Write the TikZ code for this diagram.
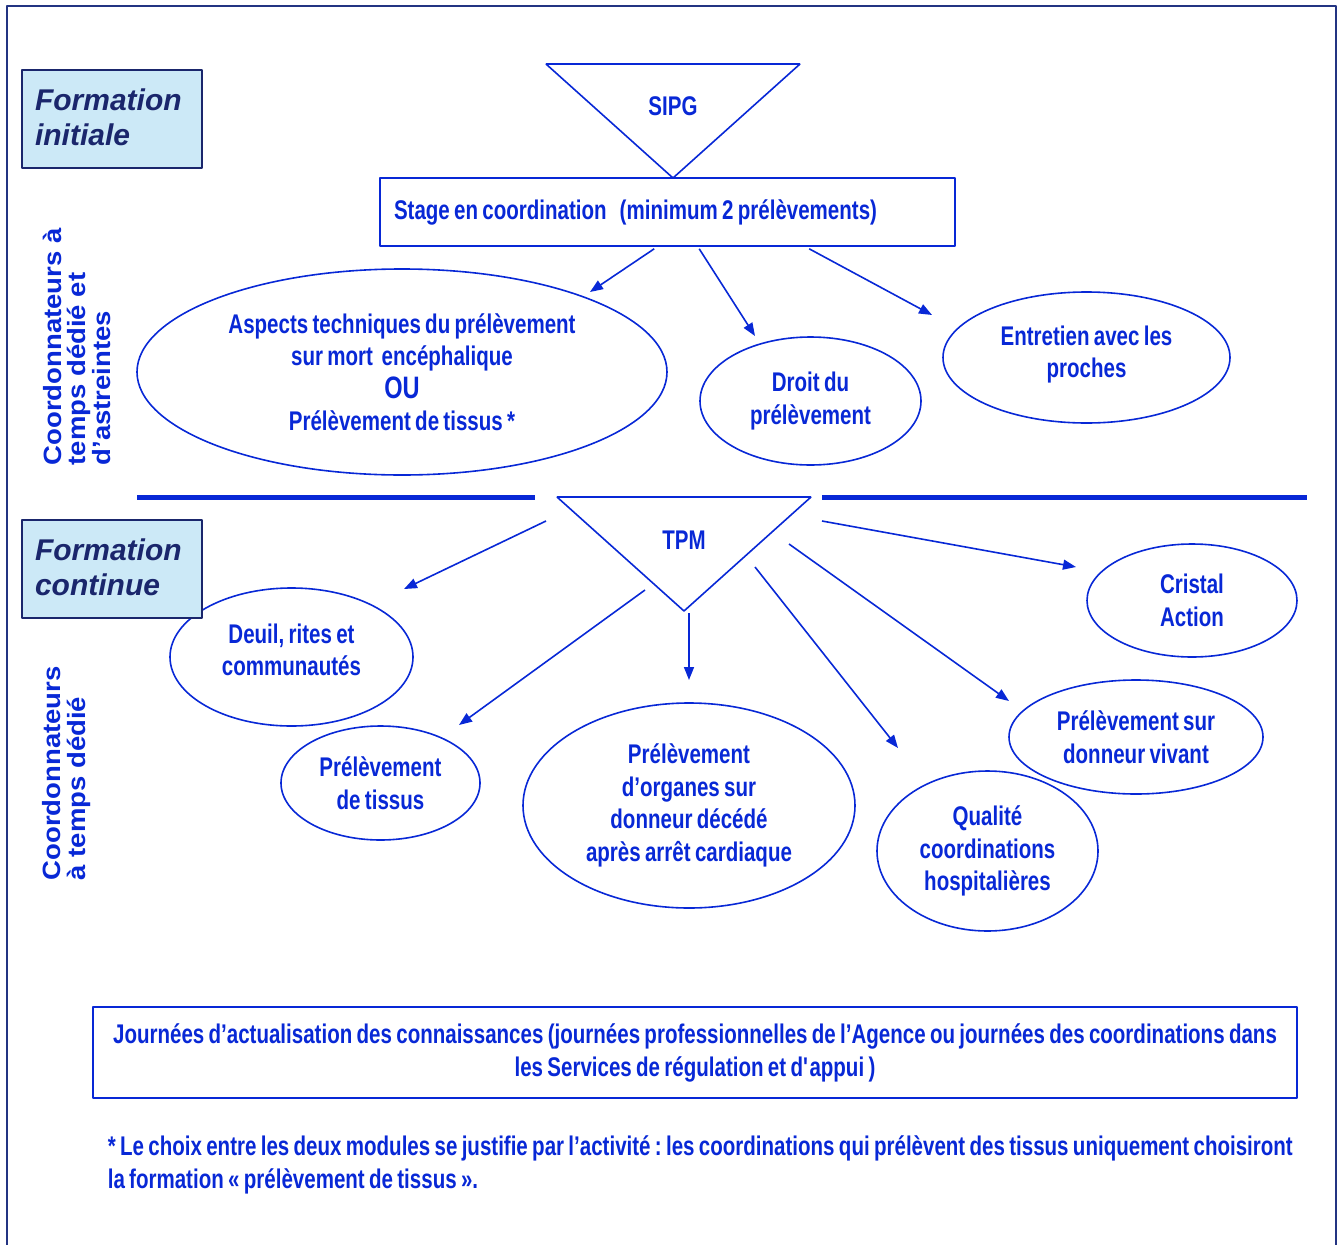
\documentclass[tikz,border=0pt]{standalone}
\usepackage{fontspec}
\setmainfont{Liberation Sans}
\newfontfamily\narrowfont[FakeStretch=0.76,WordSpace=0.76]{Liberation Sans}
\newfontfamily\widefont[FakeStretch=1.1]{Liberation Sans}
\usetikzlibrary{arrows.meta,shapes.geometric}
\frenchspacing
\definecolor{diagblue}{RGB}{8,40,214}
\definecolor{framenavy}{RGB}{35,52,130}
\definecolor{titlenavy}{RGB}{26,38,108}
\definecolor{paleblue}{RGB}{204,233,247}
\tikzset{
  module/.style={ellipse,draw=diagblue,line width=1.6bp,inner sep=0pt,align=center,text=diagblue,
    font=\narrowfont\bfseries\fontsize{27bp}{32.5bp}\selectfont},
  textbox/.style={rectangle,draw=diagblue,line width=1.6bp,text=diagblue,
    font=\narrowfont\bfseries\fontsize{27bp}{33bp}\selectfont},
  titlebox/.style={rectangle,draw=titlenavy,fill=paleblue,line width=1.2bp,text=titlenavy,
    align=left,inner xsep=13bp,text width=154bp,minimum height=98bp,
    font=\bfseries\itshape\fontsize{30bp}{35bp}\selectfont},
  sidelabel/.style={rotate=90,anchor=north west,inner sep=0pt,align=left,text=diagblue,
    font=\widefont\bfseries\fontsize{25bp}{24.5bp}\selectfont},
  plain/.style={inner sep=0pt,text=diagblue,font=\narrowfont\bfseries\fontsize{27bp}{33bp}\selectfont},
}
\begin{document}
\begin{tikzpicture}[>={Triangle[length=13bp,width=10bp]},line join=bevel,line width=1.6bp]
\useasboundingbox (0bp,0bp) rectangle (1341bp,-1245bp);
%%
\draw [framenavy,line width=2.2bp] (7bp,-1260bp) -- (7bp,-6bp) -- (1336bp,-6bp) -- (1336bp,-1260bp);
%% formation initiale
\node (node_initiale) at (112bp,-119bp) [titlebox] {\raisebox{-9bp}[0pt][0pt]{Formation}\\\raisebox{-9bp}[0pt][0pt]{initiale}};
\node (node_side_a) at (42bp,-466bp) [sidelabel] {Coordonnateurs à\\temps dédié et\\d’astreintes};
\draw [diagblue] (546bp,-64bp) -- (800bp,-64bp) -- (673bp,-178bp) -- cycle;
\node (node_sipg) at (673bp,-106bp) [plain] {SIPG};
\node (node_stage) at (667.5bp,-212bp) [textbox,align=left,inner xsep=14bp,text width=547bp,minimum height=68bp] {\raisebox{2bp}{\spaceskip=0pt\relax Stage en coordination\hspace{13bp}(minimum 2 prélèvements)}};
\node (node_aspects) at (402bp,-372bp) [module,minimum width=530bp,minimum height=206bp] {Aspects techniques du prélèvement\\sur mort~ encéphalique\\{\fontsize{31bp}{33bp}\selectfont OU}\\Prélèvement de tissus *};
\node (node_droit) at (810.5bp,-401bp) [module,minimum width=221bp,minimum height=128bp] {Droit du\\prélèvement};
\node (node_proches) at (1086.5bp,-357.5bp) [module,minimum width=287bp,minimum height=131bp] {\raisebox{-4bp}[0pt][0pt]{Entretien avec les}\\\raisebox{-4bp}[0pt][0pt]{proches}};
%
\coordinate (tip_aspects) at (590bp,-292bp);
\coordinate (tip_droit) at (755bp,-336bp);
\coordinate (tip_proches) at (932bp,-315bp);
\draw [diagblue,->] ([xshift=275bp,yshift=-2bp]node_stage.south west) -- (tip_aspects);
\draw [diagblue,->] ([xshift=320bp,yshift=-2bp]node_stage.south west) -- (tip_droit);
\draw [diagblue,->] ([xshift=430bp,yshift=-2bp]node_stage.south west) -- (tip_proches);
%% separation
\draw [diagblue,line width=5bp] (137bp,-497bp) -- (535bp,-497bp);
\draw [diagblue,line width=5bp] (822bp,-497bp) -- (1307bp,-497bp);
%% formation continue
\node (node_deuil) at (291.5bp,-657bp) [module,minimum width=243bp,minimum height=138bp] {\raisebox{-2.5bp}[0pt][0pt]{Deuil, rites et}\\\raisebox{-2.5bp}[0pt][0pt]{communautés}};
\node (node_continue) at (112bp,-569bp) [titlebox] {\raisebox{-8.5bp}[0pt][0pt]{Formation}\\\raisebox{-8.5bp}[0pt][0pt]{continue}};
\node (node_side_b) at (42bp,-881bp) [sidelabel] {Coordonnateurs\\à temps dédié};
\draw [diagblue] (557bp,-497bp) -- (811bp,-497bp) -- (684bp,-611bp) -- cycle;
\node (node_tpm) at (684bp,-540bp) [plain] {TPM};
\node (node_cristal) at (1192bp,-600.5bp) [module,minimum width=210bp,minimum height=113bp] {Cristal\\Action};
\node (node_tissus) at (380.5bp,-783bp) [module,minimum width=199bp,minimum height=114bp] {Prélèvement\\de tissus};
\node (node_organes) at (689bp,-805.5bp) [module,minimum width=332bp,minimum height=205bp] {Prélèvement\\d’organes sur\\donneur décédé\\après arrêt cardiaque};
\node (node_qualite) at (987.5bp,-851bp) [module,minimum width=221bp,minimum height=160bp] {Qualité\\coordinations\\hospitalières};
\node (node_vivant) at (1136bp,-737bp) [module,minimum width=254bp,minimum height=114bp] {Prélèvement sur\\donneur vivant};
%
\coordinate (from_deuil) at (546bp,-521bp);
\coordinate (tip_deuil) at (404bp,-589bp);
\coordinate (from_tissus) at (645bp,-590bp);
\coordinate (tip_tissus) at (459bp,-725bp);
\coordinate (from_organes) at (689bp,-613bp);
\coordinate (tip_organes) at (689bp,-680bp);
\coordinate (from_qualite) at (755bp,-567bp);
\coordinate (tip_qualite) at (898bp,-748bp);
\coordinate (from_vivant) at (789bp,-544bp);
\coordinate (tip_vivant) at (1009bp,-701bp);
\coordinate (from_cristal) at (822bp,-521bp);
\coordinate (tip_cristal) at (1076bp,-567bp);
\draw [diagblue,->] (from_deuil) -- (tip_deuil);
\draw [diagblue,->] (from_tissus) -- (tip_tissus);
\draw [diagblue,->] (from_organes) -- (tip_organes);
\draw [diagblue,->] (from_qualite) -- (tip_qualite);
\draw [diagblue,->] (from_vivant) -- (tip_vivant);
\draw [diagblue,->] (from_cristal) -- (tip_cristal);
%% journees
\node (node_journees) at (695bp,-1052.5bp) [textbox,align=center,minimum width=1204bp,minimum height=91bp] {Journées d’actualisation des connaissances (journées professionnelles de l’Agence ou journées des coordinations dans\\les Services de régulation et d\textquotesingle appui )};
\node (node_note) at (107bp,-1165bp) [plain,anchor=west,align=left] {* Le choix entre les deux modules se justifie par l’activité : les coordinations qui prélèvent des tissus uniquement choisiront\\la formation « prélèvement de tissus ».};
%
\end{tikzpicture}
\end{document}
